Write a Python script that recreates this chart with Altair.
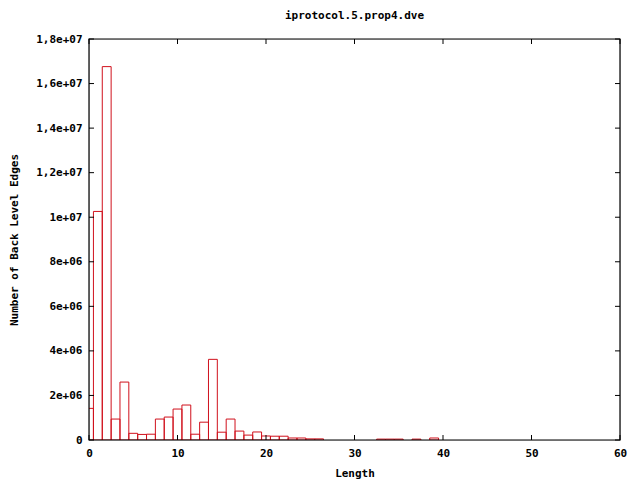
import altair as alt
import pandas as pd

# Histogram data: length -> number of back level edges
lengths = [0, 1, 2, 3, 4, 5, 6, 7, 8, 9, 10, 11, 12, 13, 14, 15, 16, 17, 18, 19,
           20, 21, 22, 23, 24, 25, 26, 33, 34, 35, 37, 39]
counts = [1420000, 10260000, 16760000, 940000, 2600000, 300000, 250000, 260000,
          940000, 1030000, 1390000, 1570000, 260000, 800000, 3620000, 350000,
          940000, 400000, 220000, 360000, 180000, 170000, 170000, 90000, 90000,
          50000, 50000, 40000, 40000, 40000, 40000, 90000]

x_ticks = [0, 10, 20, 30, 40, 50, 60]
y_ticks = [0, 2000000, 4000000, 6000000, 8000000, 10000000, 12000000,
           14000000, 16000000, 18000000]
y_tick_labels = ["0", "2e+06", "4e+06", "6e+06", "8e+06", "1e+07", "1,2e+07",
                 "1,4e+07", "1,6e+07", "1,8e+07"]

title_text = "iprotocol.5.prop4.dve"
x_title = "Length"
y_title = "Number of Back Level Edges"

W, H = 531, 401
FONT = "DejaVu Sans Mono"
RED = "#d0101c"

df = pd.DataFrame({"length": lengths, "count": counts})
df["x0"] = df["length"] - 0.5
df["x1"] = df["length"] + 0.5

ylab_expr = " : ".join(
    f"datum.value == {v} ? '{l}'" for v, l in zip(y_ticks, y_tick_labels)
) + " : ''"

xscale = alt.Scale(domain=[0, 60], nice=False, zero=False)
yscale = alt.Scale(domain=[0, 18000000], nice=False)

bars = alt.Chart(df).mark_rect(
    fill="white", fillOpacity=0, stroke=RED, strokeWidth=1, clip=True
).encode(
    x=alt.X("x0:Q", scale=xscale,
            axis=alt.Axis(values=x_ticks, title=x_title, grid=False, domain=False,
                          ticks=False, tickSize=0, labelPadding=7, titlePadding=9,
                          labelFont=FONT, labelFontSize=11, labelFontWeight="bold",
                          titleFont=FONT, titleFontSize=11, titleFontWeight="bold",
                          labelColor="black", titleColor="black", labelFlush=False)),
    x2="x1:Q",
    y=alt.Y("count:Q", scale=yscale,
            axis=alt.Axis(values=y_ticks, labelExpr=ylab_expr, title=y_title,
                          grid=False, domain=False, ticks=False, tickSize=0,
                          labelPadding=7, titlePadding=16,
                          labelFont=FONT, labelFontSize=11, labelFontWeight="bold",
                          titleFont=FONT, titleFontSize=11, titleFontWeight="bold",
                          labelColor="black", titleColor="black", labelFlush=False)),
    y2=alt.datum(0),
)

xt = pd.DataFrame({"v": x_ticks})
yt = pd.DataFrame({"v": y_ticks})

xticks_bottom = alt.Chart(xt).mark_rule(color="black", strokeWidth=1).encode(
    x=alt.X("v:Q", scale=xscale), y=alt.value(H), y2=alt.value(H - 5))
xticks_top = alt.Chart(xt).mark_rule(color="black", strokeWidth=1).encode(
    x=alt.X("v:Q", scale=xscale), y=alt.value(0), y2=alt.value(5))
yticks_left = alt.Chart(yt).mark_rule(color="black", strokeWidth=1).encode(
    y=alt.Y("v:Q", scale=yscale), x=alt.value(0), x2=alt.value(5))
yticks_right = alt.Chart(yt).mark_rule(color="black", strokeWidth=1).encode(
    y=alt.Y("v:Q", scale=yscale), x=alt.value(W - 5), x2=alt.value(W))

border = alt.Chart(pd.DataFrame({"v": [0]})).mark_rect(
    fill="white", fillOpacity=0, stroke="black", strokeWidth=1.2
).encode(x=alt.value(0), x2=alt.value(W), y=alt.value(0), y2=alt.value(H))

chart = alt.layer(bars, xticks_bottom, xticks_top, yticks_left, yticks_right, border).properties(
    width=W, height=H,
    autosize=alt.AutoSizeParams(type="none"),
    padding={"left": 81, "top": 31, "right": 12, "bottom": 40},
    title=alt.TitleParams(title_text, font=FONT, fontSize=11, fontWeight="bold",
                          color="black", anchor="middle", offset=12),
).configure_view(stroke=None).configure(background="white")

chart.save("out.html", embed_options={"renderer": "svg", "actions": False})
